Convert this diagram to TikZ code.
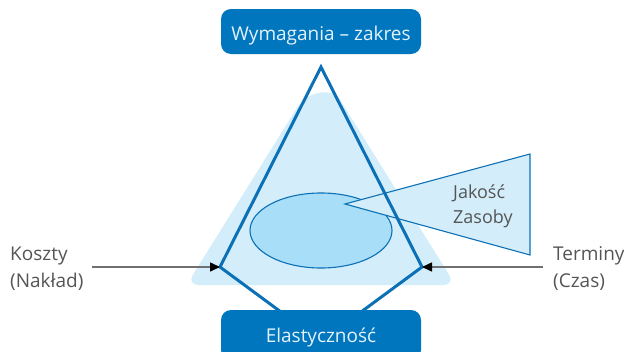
\documentclass[tikz,border=0pt]{standalone}
\usepackage{fontspec}
\setmainfont{Open Sans}
\usetikzlibrary{arrows.meta}
\definecolor{boxblue}{RGB}{0,118,190}
\definecolor{edgeblue}{RGB}{12,112,182}
\definecolor{paleblue}{RGB}{211,238,250}
\definecolor{midblue}{RGB}{168,222,248}
\definecolor{labelgray}{RGB}{85,85,85}
\definecolor{boxtext}{RGB}{228,242,252}
\definecolor{arrowgray}{RGB}{112,112,112}
\begin{document}
\begin{tikzpicture}[x=1pt,y=-1pt,
  titlebox/.style={fill=boxblue, rounded corners=10pt, minimum width=200pt,
    inner sep=0pt, text=boxtext, font=\fontsize{19}{26}\selectfont, text depth=0pt},
  sidelabel/.style={text=labelgray, align=left, inner sep=0pt,
    font=\fontsize{19}{26.7}\selectfont},
  pull/.style={draw=arrowgray, line width=1.5pt,
    -{Triangle[length=10pt,width=9pt,color=black]}},
  frame/.style={draw=edgeblue, line width=3pt, line join=miter},
  thinedge/.style={draw=edgeblue, line width=1.1pt}]
\useasboundingbox (0,0) rectangle (624,351);

% pale backdrop triangle with a rounded top
\fill[paleblue] (344.7,107.2) .. controls (333.75,89.6) and (308.25,89.6) .. (297.3,107.2)
  [rounded corners=12pt] -- (186.5,285) -- (455.5,285) -- cycle;

% quality / resources ellipse and its callout wedge
\draw[thinedge, fill=midblue] (321,230.5) ellipse [x radius=71, y radius=37.5];
\draw[thinedge, fill=paleblue] (345,204) -- (530,154) -- (530,255) -- cycle;
\node[sidelabel, anchor=base west, font=\fontsize{18}{25}\selectfont] (jakosc) at (453,223) {Jakość\\Zasoby};

% corner points of the frame
\coordinate (apex) at (321,67);
\coordinate (vl) at (220,267);
\coordinate (vr) at (422,267);
\coordinate (fl) at (281,312);
\coordinate (fr) at (361,312);
\draw[frame] (fl) -- (vl) -- (apex) -- (vr) -- (fr);

% cost and time pulling on the corners
\coordinate (pl) at (92,267);
\coordinate (pr) at (543,267);
\draw[pull] (pl) -- (vl);
\draw[pull] (pr) -- (vr);

\node[sidelabel, anchor=base west] (koszty) at (10,287) {Koszty\\(Nakład)};
\node[sidelabel, anchor=base west] (terminy) at (553,287) {Terminy\\(Czas)};

% title boxes
\node[titlebox, minimum height=45pt, text height=17pt] (scope) at (321,31.5) {Wymagania – zakres};
\node[titlebox, minimum height=50pt, text height=14pt] (flex) at (321,335) {Elastyczność};
\end{tikzpicture}
\end{document}
